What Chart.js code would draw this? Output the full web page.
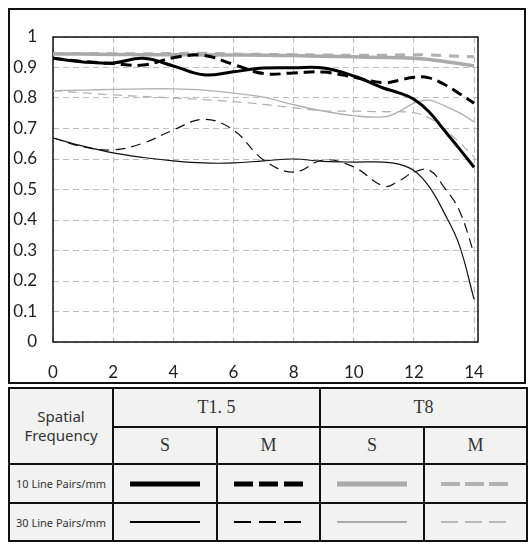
<!DOCTYPE html>
<html>
<head>
<meta charset="utf-8">
<script src="https://cdn.jsdelivr.net/npm/chart.js@4.4.0/dist/chart.umd.min.js"></script>
<style>
  html, body { margin: 0; padding: 0; background: #fff; }
  body { width: 532px; height: 544px; position: relative; overflow: hidden; }
  #box { position: absolute; left: 8px; top: 8px; width: 514px; height: 372px; border: 2px solid #111; background: #fff; }
  #box canvas { display: block; }
  #legend { position: absolute; left: 8px; top: 387px; border-collapse: collapse; background: #f2f2f2; table-layout: fixed; }
  #legend td { border: 2px solid #111; padding: 0; text-align: center; vertical-align: middle; color: #333; }
  .sf { font-family: "Noto Sans", sans-serif; font-size: 15px; line-height: 19px; }
  .ap { font-family: "Liberation Serif", serif; font-size: 18px; }
  .lp { font-family: "Noto Sans", sans-serif; font-size: 11px; }
  svg { display: block; margin: 0 auto; }
</style>
</head>
<body>
<div id="box"><canvas id="mtf" width="514" height="372"></canvas></div>

<table id="legend">
  <colgroup><col style="width:104px"><col style="width:104px"><col style="width:103px"><col style="width:104px"><col style="width:103px"></colgroup>
  <tr style="height:39px">
    <td rowspan="2" class="sf">Spatial<br>Frequency</td>
    <td colspan="2" class="ap">T1. 5</td>
    <td colspan="2" class="ap">T8</td>
  </tr>
  <tr style="height:37px">
    <td class="ap">S</td><td class="ap">M</td><td class="ap">S</td><td class="ap">M</td>
  </tr>
  <tr style="height:39px">
    <td class="lp">10 Line Pairs/mm</td>
    <td><svg width="70" height="8"><line x1="0" y1="4" x2="70" y2="4" stroke="#000" stroke-width="5"/></svg></td>
    <td><svg width="70" height="8"><line x1="0" y1="4" x2="70" y2="4" stroke="#000" stroke-width="5" stroke-dasharray="19 6"/></svg></td>
    <td><svg width="70" height="8"><line x1="0" y1="4" x2="70" y2="4" stroke="#aaa" stroke-width="5"/></svg></td>
    <td><svg width="70" height="8"><line x1="0" y1="4" x2="70" y2="4" stroke="#b0b0b0" stroke-width="4" stroke-dasharray="19 5"/></svg></td>
  </tr>
  <tr style="height:38px">
    <td class="lp">30 Line Pairs/mm</td>
    <td><svg width="70" height="8"><line x1="0" y1="4" x2="70" y2="4" stroke="#000" stroke-width="2"/></svg></td>
    <td><svg width="70" height="8"><line x1="0" y1="4" x2="70" y2="4" stroke="#000" stroke-width="2" stroke-dasharray="17 8"/></svg></td>
    <td><svg width="70" height="8"><line x1="0" y1="4" x2="70" y2="4" stroke="#aaa" stroke-width="2"/></svg></td>
    <td><svg width="70" height="8"><line x1="0" y1="4" x2="70" y2="4" stroke="#b8b8b8" stroke-width="2" stroke-dasharray="17 7"/></svg></td>
  </tr>
</table>

<script>
// image height (mm from centre)
const imageHeight = [0, 1, 2, 3, 4, 5, 6, 7, 8, 9, 10, 11, 11.5, 12, 12.5, 13, 13.5, 14];
const xTicks = [0, 2, 4, 6, 8, 10, 12, 14];
const yTicks = [0, 0.1, 0.2, 0.3, 0.4, 0.5, 0.6, 0.7, 0.8, 0.9, 1];

// T1.5
const t15Sag10 = [0.930, 0.918, 0.915, 0.930, 0.905, 0.876, 0.886, 0.898, 0.899, 0.898, 0.872, 0.832, 0.817, 0.796, 0.755, 0.695, 0.635, 0.573];
const t15Mer10 = [0.930, 0.920, 0.913, 0.908, 0.932, 0.940, 0.910, 0.880, 0.882, 0.885, 0.868, 0.850, 0.858, 0.868, 0.866, 0.845, 0.815, 0.783];
const t15Sag30 = [0.669, 0.642, 0.620, 0.605, 0.594, 0.587, 0.587, 0.594, 0.600, 0.592, 0.590, 0.590, 0.583, 0.562, 0.510, 0.425, 0.320, 0.140];
const t15Mer30 = [0.669, 0.640, 0.630, 0.652, 0.695, 0.730, 0.695, 0.597, 0.557, 0.597, 0.574, 0.511, 0.528, 0.557, 0.564, 0.508, 0.433, 0.290];
// T8
const t8Sag10 = [0.944, 0.944, 0.943, 0.942, 0.942, 0.941, 0.941, 0.940, 0.939, 0.937, 0.935, 0.933, 0.932, 0.930, 0.926, 0.920, 0.913, 0.905];
const t8Mer10 = [0.946, 0.946, 0.945, 0.945, 0.946, 0.947, 0.944, 0.943, 0.942, 0.941, 0.940, 0.940, 0.941, 0.942, 0.941, 0.939, 0.937, 0.935];
const t8Sag30 = [0.824, 0.826, 0.828, 0.830, 0.830, 0.826, 0.816, 0.803, 0.778, 0.757, 0.742, 0.738, 0.755, 0.783, 0.793, 0.775, 0.752, 0.722];
const t8Mer30 = [0.824, 0.817, 0.810, 0.805, 0.800, 0.795, 0.788, 0.779, 0.768, 0.758, 0.757, 0.755, 0.755, 0.752, 0.735, 0.700, 0.655, 0.607];

function pts(values) {
  return imageHeight.map((x, i) => ({ x: x, y: values[i] }));
}

function line(label, values, color, width, dash) {
  return {
    label: label,
    data: pts(values),
    borderColor: color,
    borderWidth: width,
    borderDash: dash || [],
    pointRadius: 0,
    tension: 0.4,
    fill: false
  };
}

// frame around the plot area
const frame = {
  id: 'frame',
  beforeDatasetsDraw(chart) {
    const a = chart.chartArea;
    const ctx = chart.ctx;
    ctx.save();
    ctx.strokeStyle = '#111';
    ctx.lineWidth = 1.5;
    ctx.strokeRect(a.left, a.top, a.right - a.left, a.bottom - a.top);
    ctx.restore();
  }
};

new Chart(document.getElementById('mtf'), {
  type: 'line',
  data: {
    datasets: [
      line('T1.5 S 10', t15Sag10, '#000', 3),
      line('T1.5 M 10', t15Mer10, '#000', 3, [11, 6]),
      line('T1.5 S 30', t15Sag30, '#111', 1.2),
      line('T1.5 M 30', t15Mer30, '#111', 1.2, [10, 6]),
      line('T8 S 10', t8Sag10, '#aaa', 3.5),
      line('T8 M 10', t8Mer10, '#b0b0b0', 3, [10, 8]),
      line('T8 S 30', t8Sag30, '#b0b0b0', 1.3),
      line('T8 M 30', t8Mer30, '#b4b4b4', 1.3, [9, 6])
    ]
  },
  options: {
    responsive: false,
    animation: false,
    layout: { padding: { top: 27, right: 46, left: 0, bottom: 0 } },
    plugins: { legend: { display: false }, tooltip: { enabled: false } },
    scales: {
      x: {
        type: 'linear',
        min: 0,
        max: 14.13,
        afterBuildTicks: (s) => { s.ticks = xTicks.map(v => ({ value: v })); },
        afterFit: (s) => { s.height = 40; },
        grid: { color: '#bdbdbd', lineWidth: 1, drawTicks: false },
        border: { display: false, dash: [6, 4] },
        ticks: { padding: 20, color: '#222', font: { family: 'Lato', size: 17 } }
      },
      y: {
        min: 0,
        max: 1,
        afterBuildTicks: (s) => { s.ticks = yTicks.map(v => ({ value: v })); },
        afterFit: (s) => { s.width = 43; },
        grid: { color: '#bdbdbd', lineWidth: 1, drawTicks: false },
        border: { display: false, dash: [6, 4] },
        ticks: {
          padding: 16,
          color: '#222',
          font: { family: 'Lato', size: 17 },
          callback: (v) => String(Number(v.toFixed(1)))
        }
      }
    }
  },
  plugins: [frame]
});
</script>
</body>
</html>
